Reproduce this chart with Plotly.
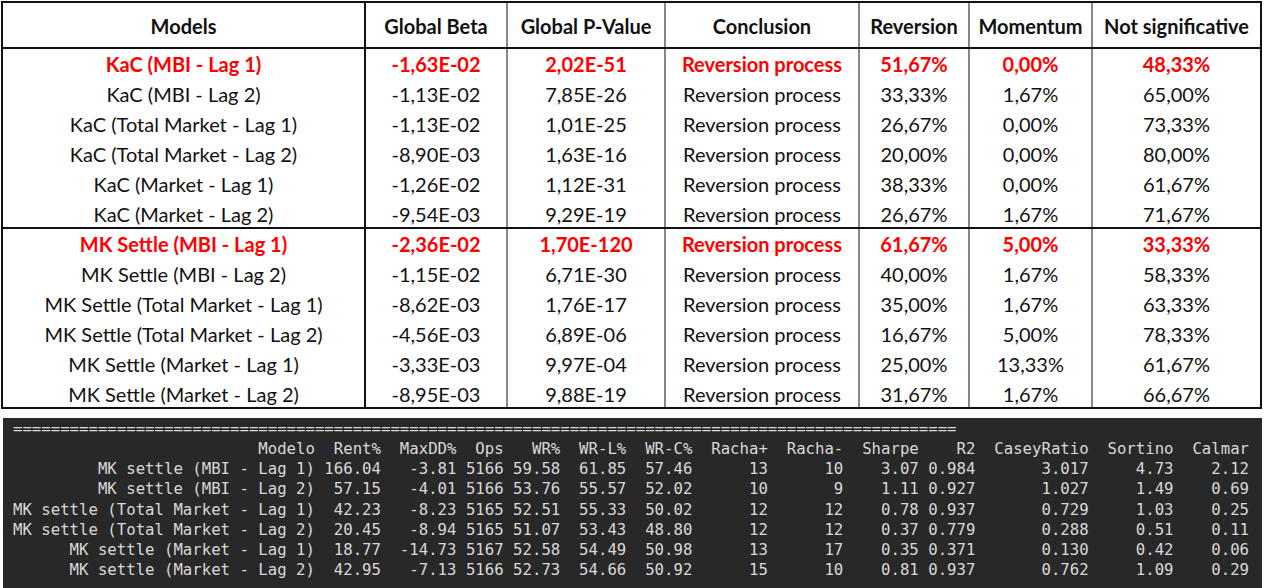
import plotly.graph_objects as go

W, H = 1265, 588

# ---- top table: regression summary ----
headers = ["Models", "Global Beta", "Global P-Value", "Conclusion",
           "Reversion", "Momentum", "Not significative"]
models = ["KaC (MBI - Lag 1)", "KaC (MBI - Lag 2)",
          "KaC (Total Market - Lag 1)", "KaC (Total Market - Lag 2)",
          "KaC (Market - Lag 1)", "KaC (Market - Lag 2)",
          "MK Settle (MBI - Lag 1)", "MK Settle (MBI - Lag 2)",
          "MK Settle (Total Market - Lag 1)", "MK Settle (Total Market - Lag 2)",
          "MK Settle (Market - Lag 1)", "MK Settle (Market - Lag 2)"]
global_beta = [-1.63e-02, -1.13e-02, -1.13e-02, -8.90e-03, -1.26e-02, -9.54e-03,
               -2.36e-02, -1.15e-02, -8.62e-03, -4.56e-03, -3.33e-03, -8.95e-03]
global_pvalue = [2.02e-51, 7.85e-26, 1.01e-25, 1.63e-16, 1.12e-31, 9.29e-19,
                 1.70e-120, 6.71e-30, 1.76e-17, 6.89e-06, 9.97e-04, 9.88e-19]
conclusion = ["Reversion process"] * 12
reversion = [51.67, 33.33, 26.67, 20.00, 38.33, 26.67, 61.67, 40.00, 35.00, 16.67, 25.00, 31.67]
momentum = [0.00, 1.67, 0.00, 0.00, 0.00, 1.67, 5.00, 1.67, 1.67, 5.00, 13.33, 1.67]
not_significative = [48.33, 65.00, 73.33, 80.00, 61.67, 71.67, 33.33, 58.33, 63.33, 78.33, 61.67, 66.67]
highlight = [True, False, False, False, False, False, True, False, False, False, False, False]

# ---- bottom: backtest console output ----
bt_headers = ["Modelo", "Rent%", "MaxDD%", "Ops", "WR%", "WR-L%", "WR-C%",
              "Racha+", "Racha-", "Sharpe", "R2", "CaseyRatio", "Sortino", "Calmar"]
bt_models = ["MK settle (MBI - Lag 1)", "MK settle (MBI - Lag 2)",
             "MK settle (Total Market - Lag 1)", "MK settle (Total Market - Lag 2)",
             "MK settle (Market - Lag 1)", "MK settle (Market - Lag 2)"]
rent = [166.04, 57.15, 42.23, 20.45, 18.77, 42.95]
max_dd = [-3.81, -4.01, -8.23, -8.94, -14.73, -7.13]
ops = [5166, 5166, 5165, 5165, 5167, 5166]
wr = [59.58, 53.76, 52.51, 51.07, 52.58, 52.73]
wr_l = [61.85, 55.57, 55.33, 53.43, 54.49, 54.66]
wr_c = [57.46, 52.02, 50.02, 48.80, 50.98, 50.92]
racha_pos = [13, 10, 12, 12, 13, 15]
racha_neg = [10, 9, 12, 12, 17, 10]
sharpe = [3.07, 1.11, 0.78, 0.37, 0.35, 0.81]
r2 = [0.984, 0.927, 0.937, 0.779, 0.371, 0.937]
casey_ratio = [3.017, 1.027, 0.729, 0.288, 0.130, 0.762]
sortino = [4.73, 1.49, 1.03, 0.51, 0.42, 1.09]
calmar = [2.12, 0.69, 0.25, 0.11, 0.06, 0.29]


def sci(v):
    return f"{v:.2E}".replace(".", ",")


def pct(v):
    return f"{v:.2f}%".replace(".", ",")


# table geometry (pixels)
col_w = [363, 142, 158, 194, 110, 123, 169]
x0, y0 = 2, 2
head_h, row_h = 46, 30
text_dy = 3.5  # optical nudge so caps sit centred in the cells
edges = [x0]
for w in col_w:
    edges.append(edges[-1] + w)
centers = [(a + b) / 2 for a, b in zip(edges[:-1], edges[1:])]
row_y = [y0 + head_h + row_h * (i + 0.5) + text_dy for i in range(len(models))]
table_bottom = y0 + head_h + row_h * len(models)

columns = [
    models,
    [sci(v) for v in global_beta],
    [sci(v) for v in global_pvalue],
    conclusion,
    [pct(v) for v in reversion],
    [pct(v) for v in momentum],
    [pct(v) for v in not_significative],
]

fig = go.Figure()

fig.add_trace(go.Scatter(
    x=centers, y=[y0 + head_h / 2 + text_dy] * len(headers),
    text=[f"<b>{h}</b>" for h in headers],
    mode="text", textposition="middle center",
    textfont=dict(family="Lato", size=20, color="#111"),
    hoverinfo="skip", showlegend=False
))

for cx, col in zip(centers, columns):
    fig.add_trace(go.Scatter(
        x=[cx] * len(col), y=row_y,
        text=[f"<b>{t}</b>" if h else t for t, h in zip(col, highlight)],
        mode="text", textposition="middle center",
        textfont=dict(family="Lato", size=20,
                      color=["#ff0000" if h else "#111" for h in highlight]),
        hoverinfo="skip", showlegend=False
    ))

# console text lines
widths = [32, 7, 8, 5, 6, 7, 7, 8, 8, 8, 6, 12, 9, 8]
fmts = ["{}", "{:.2f}", "{:.2f}", "{}", "{:.2f}", "{:.2f}", "{:.2f}",
        "{}", "{}", "{:.2f}", "{:.3f}", "{:.3f}", "{:.2f}", "{:.2f}"]
bt_cols = [bt_models, rent, max_dd, ops, wr, wr_l, wr_c, racha_pos, racha_neg,
           sharpe, r2, casey_ratio, sortino, calmar]


def line(cells):
    return "".join(c.rjust(w) for c, w in zip(cells, widths))


lines = ["=" * 100, line(bt_headers)]
for i in range(len(bt_models)):
    lines.append(line([f.format(col[i]) for f, col in zip(fmts, bt_cols)]))
lines = [s.replace(" ", "\u00a0") for s in lines]

panel_top = 418
line_y = [panel_top + 12 + 20.15 * i for i in range(len(lines))]

fig.add_trace(go.Scatter(
    x=[13] * len(lines), y=line_y, text=lines,
    mode="text", textposition="middle right",
    textfont=dict(family="DejaVu Sans Mono", size=15.68, color="#d8d8d8"),
    hoverinfo="skip", showlegend=False
))

shapes = [
    dict(type="rect", x0=3, x1=1262, y0=panel_top, y1=H,
         fillcolor="#282828", line_width=0, layer="below"),
    dict(type="rect", x0=edges[0], x1=edges[-1], y0=y0, y1=table_bottom,
         line=dict(color="#111", width=2)),
    dict(type="line", x0=edges[0], x1=edges[-1], y0=y0 + head_h, y1=y0 + head_h,
         line=dict(color="#111", width=2)),
    dict(type="line", x0=edges[0], x1=edges[-1], y0=y0 + head_h + 6 * row_h,
         y1=y0 + head_h + 6 * row_h, line=dict(color="#111", width=2)),
]
for k, ex in enumerate(edges[1:-1]):
    shapes.append(dict(type="line", x0=ex, x1=ex, y0=y0, y1=table_bottom,
                       line=dict(color="#111", width=2 if k == 0 else 1)))

fig.update_layout(
    width=W, height=H,
    margin=dict(l=0, r=0, t=0, b=0),
    paper_bgcolor="white", plot_bgcolor="white",
    xaxis=dict(range=[0, W], visible=False, fixedrange=True),
    yaxis=dict(range=[H, 0], visible=False, fixedrange=True),
    shapes=shapes,
)

fig.write_html("out.html", config={"displayModeBar": False},
               post_script="document.body.style.margin='0';document.body.style.overflow='hidden';")
